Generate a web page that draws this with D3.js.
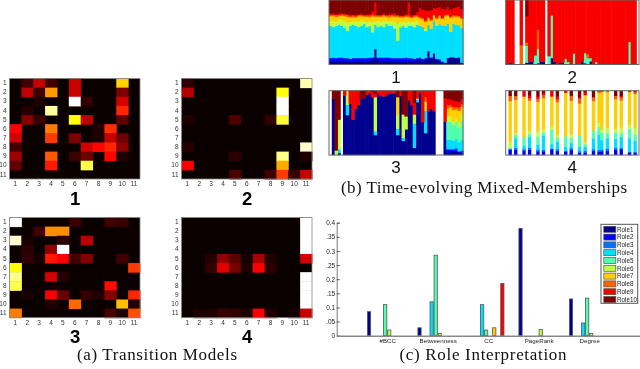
<!DOCTYPE html>
<html><head><meta charset="utf-8">
<script src="https://cdn.jsdelivr.net/npm/d3@7"></script>
<style>html,body{margin:0;padding:0;background:#fff}svg{display:block;filter:blur(.35px)}text{font-family:"Liberation Sans",Arial,sans-serif}</style>
</head><body><svg id="c" width="640" height="369"></svg>
<script>
const indices = ["1","2","3","4","5","6","7","8","9","10","11"];
const heat1 = [
[0,.08,.28,.08,0,.28,0,0,0,.68,0],
[0,.27,.08,.6,0,.28,0,0,0,.17,0],
[0,0,.03,0,0,1,.06,0,0,.3,0],
[0,.04,0,.9,0,0,0,0,0,.42,0],
[0,.18,.07,0,0,.75,.27,0,0,.13,0],
[.36,0,0,.55,0,0,0,.03,.43,0,0],
[.3,0,0,.45,0,.17,0,.03,.28,.15,0],
[.08,0,0,0,0,0,.3,.37,.42,.2,0],
[.22,0,0,.5,0,.07,.15,0,.37,.03,0],
[.13,0,0,.4,0,0,.82,0,0,0,0],
[0,0,0,0,0,0,0,0,0,0,0]];
const heat2 = [
[.05,0,0,0,0,0,0,0,0,0,.92],
[.25,0,0,0,0,0,0,0,.76,0,0],
[0,0,0,0,0,0,0,0,1,0,0],
[0,0,0,0,0,0,0,0,1,0,0],
[.03,0,0,0,.1,0,0,.06,.8,0,0],
[0,0,0,0,0,0,0,0,0,0,0],
[0,0,0,0,0,0,0,0,0,0,0],
[.04,0,0,0,0,0,0,0,0,0,.95],
[0,0,0,0,.05,0,0,0,.88,0,.03],
[.36,0,0,0,0,0,0,0,.62,0,0],
[0,0,0,0,.1,0,0,.08,.45,.07,.28]];
const heat3 = [
[1,0,0,0,0,.07,0,0,.08,.07,0],
[0,0,.08,.58,.58,0,0,0,0,0,0],
[.95,.02,0,0,.05,0,.27,0,0,0,0],
[0,.05,0,.2,1,0,0,0,0,0,0],
[0,.06,.02,.4,.36,.08,.18,0,0,.08,0],
[.75,0,0,0,0,0,0,0,0,0,.45],
[.88,0,0,.3,.04,0,0,0,0,0,0],
[.82,0,0,0,0,0,0,0,.38,0,0],
[0,.02,0,.36,.14,0,.06,.03,.18,0,.42],
[0,0,0,.03,0,.52,0,0,0,.65,.04],
[.55,0,0,0,0,0,0,0,.09,.03,.48]];
const heat4 = [
[0,0,0,0,0,0,0,0,0,0,1],
[0,0,0,0,0,0,0,0,0,0,1],
[0,0,0,0,0,0,0,0,0,0,1],
[0,0,0,0,0,0,0,0,0,0,1],
[0,0,.04,.2,.12,.02,.24,.03,0,0,.3],
[0,0,.06,.32,.16,.03,.36,.05,0,0,0],
[0,0,0,0,0,0,0,0,0,0,1],
[0,0,0,0,0,0,0,0,0,0,1],
[0,0,0,0,0,0,0,0,0,0,1],
[0,0,0,0,0,0,0,0,0,0,1],
[0,.03,.03,.07,.06,.03,.36,.03,0,.02,.28]];

const roles = ["Role1","Role2","Role3","Role4","Role5","Role6","Role7","Role8","Role9","Role10"];
const roleColors = ["#00008f","#0000ff","#0070ff","#00dfff","#50ffaf","#bfff40","#ffcf00","#ff6000","#f80000","#800000"];

const p1Role1 = [4,6,5,6,5,6,4,5,4,5,6,5,5,4,6,7,24,7,5,6,5,5,6,5,4,5,4,5,6,5,5,7,8,4,7,20,8,16,8,6,3,2,9,11,11,10,11,3];
const p1Role2 = [6,5,5,5,6,4,6,4,6,5,4,5,5,6,5,4,0,4,6,5,6,6,4,5,6,5,6,6,4,5,4,3,3,5,3,0,2,0,1,2,2,1,1,0,0,0,0,0];
const p1Role4 = [50,47,50,51,49,47,42,51,52,50,48,50,53,48,49,39,38,47,49,47,52,49,50,46,27,48,50,46,50,50,49,52,49,49,42,40,40,46,51,52,57,55,50,37,51,50,49,53];
const p1Role6 = [8,9,6,7,9,10,13,6,5,7,9,8,4,8,7,15,5,9,7,9,5,7,8,10,26,8,6,8,7,6,9,5,0,0,3,0,0,0,1,0,0,0,0,0,0,0,0,0];
const p1Role7 = [7,8,8,6,7,8,9,7,6,6,8,7,7,8,6,10,7,7,7,8,6,6,7,8,11,7,7,9,6,6,7,7,12,12,11,10,11,8,9,12,10,14,12,20,11,12,12,14];
const p1Role8 = [2,2,3,2,2,2,3,2,3,2,2,2,2,2,3,3,2,2,2,2,2,3,2,2,2,2,2,2,3,2,2,2,2,2,2,1,2,1,2,2,2,2,2,2,2,2,2,2];
const p1Role9 = [2,2,1,2,1,2,1,2,1,2,1,2,1,2,2,5,20,1,1,2,1,2,2,3,1,1,1,2,20,2,1,5,14,13,16,10,13,9,15,12,14,8,11,10,11,12,14,13];
const p1Role10 = [21,21,22,21,21,21,22,23,23,23,22,21,23,22,22,17,4,23,23,21,23,22,21,21,23,24,24,22,4,24,23,19,12,15,16,16,14,12,12,10,14,14,10,14,12,11,10,14];

const p2Role1 = [0,3,1.5,0,0,0,0,3,4,4,0,2,4,4,0,0,10,4,0,3,3,0,0,0,0,1,0,5,2,0,5,0,0,0,0,0,0,0,0,0,0,0,0,0,0,0,0,0];
const p2Role5 = [0,0,0,0,0,0,0,26,0,0,14,22,0,0,0,13,66,0,0,0,0,9,4,0,17,0,0,0,16,10,5,0,4,0,0,0,0,0,0,0,0,0,0,0,35,0,0,0];
const p2Role8 = [0,0,0,0,0,30,0,5,0,0,0,30,0,0,0,0,0,0,0,0,0,0,0,0,0,0,0,0,0,6,0,0,0,0,0,0,0,0,0,0,0,0,0,0,0,0,0,0];
const p2Role9 = [100,97,98.5,0,0,70,0,41,96,96,86,46,96,96,0,87,24,96,100,97,97,91,96,100,83,99,100,95,82,84,90,100,96,100,100,100,100,100,100,100,100,100,100,100,65,100,100,0];
const p2Role10 = [0,0,0,0,0,0,0,25,0,0,0,0,0,0,0,0,0,0,0,0,0,0,0,0,0,0,0,0,0,0,0,0,0,0,0,0,0,0,0,0,0,0,0,0,0,0,0,0];

const p3Role1 = [0,88,0,3,0,92,62,80,55,72,78,88,88,94,96,90,31,95,92,91,93,95,96,96,31,92,22,40,85,78,11,82,97,51,34,68,72,68,0,0,0,52,4,5,5,5,3,4];
const p3Role2 = [0,0,0,0,0,0,0,0,0,0,0,0,0,0,0,0,0,0,0,0,0,0,0,0,0,0,0,0,0,0,0,0,0,0,0,0,0,0,0,0,0,0,4,3,3,4,2,2];
const p3Role3 = [0,0,0,0,0,0,0,0,0,0,0,0,0,0,0,0,0,0,0,0,0,0,0,0,0,0,0,0,0,0,0,0,0,0,0,0,0,0,0,0,0,0,2,2,2,2,1,1];
const p3Role4 = [0,0,0,6,0,0,16,0,0,0,0,0,0,0,0,0,6,0,0,0,0,0,0,0,10,0,5,0,0,0,38,4,0,0,35,0,0,0,0,0,0,0,14,14,12,14,14,16];
const p3Role5 = [0,0,0,0,0,0,0,0,0,0,0,0,0,0,0,0,0,0,0,0,0,0,0,0,0,0,0,0,0,0,0,0,0,0,0,0,0,0,0,0,0,0,28,28,25,27,22,30];
const p3Role6 = [0,0,7,46,0,0,22,0,0,0,0,0,0,0,0,0,53,0,0,0,0,0,0,0,22,0,36,20,0,0,14,0,0,0,14,0,0,0,0,0,0,0,8,8,5,5,8,10];
const p3Role7 = [0,0,0,0,0,0,0,0,0,0,0,0,0,0,0,0,0,0,0,0,0,0,0,0,27,0,0,0,0,0,0,2,0,0,0,0,0,0,0,0,0,0,12,14,18,14,18,12];
const p3Role8 = [0,0,0,0,0,0,0,0,0,0,0,0,0,0,0,0,0,0,0,0,0,0,0,0,0,0,0,0,0,0,0,0,0,0,7,0,0,0,0,0,0,0,5,4,5,4,5,4];
const p3Role9 = [0,0,0,0,0,8,0,20,45,28,22,0,0,6,4,8,5,5,8,9,7,5,4,4,0,8,0,0,15,22,18,12,3,49,10,32,28,32,0,0,0,36,10,9,10,9,9,8];
const p3Role10 = [0,12,93,45,0,0,0,0,0,0,0,12,12,0,0,2,5,0,0,0,0,0,0,0,10,0,37,40,0,0,19,0,0,0,0,0,0,0,0,0,0,12,13,13,15,16,17,13];

const p4Cols = [1,3,6,8,11,13,16,18,21,23,26,28,31,33,34,36,39,41,44,46];
const p4Role1 = [1,1,1,1,0,1,1,1,0,1,0,1,1,1,1,1,1,1,1,1];
const p4Role2 = [7,7,6,8,6,5,8,5,5,7,3,3,5,4,5,5,7,8,3,2];
const p4Role3 = [2,3,2,3,3,3,1,3,2,3,3,3,3,3,3,4,3,2,1,2];
const p4Role4 = [0,15,6,17,8,23,7,12,6,8,7,6,17,24,15,16,14,17,21,17];
const p4Role5 = [1,5,13,5,13,5,22,5,16,8,17,4,12,12,12,8,10,6,15,10];
const p4Role6 = [10,3,0,5,8,5,6,5,0,6,0,3,0,7,5,8,5,9,6,10];
const p4Role7 = [63,52,63,49,49,51,46,51,68,54,50,75,46,47,60,56,47,42,51,53];
const p4Role8 = [8,6,0,4,5,5,0,5,0,8,8,0,6,2,1,2,5,5,1,3];
const p4Role9 = [0,0,9,4,4,3,9,4,3,0,2,5,0,1,1,0,0,2,1,2];
const p4Role10 = [8,8,0,8,9,4,0,9,0,8,10,2,10,0,0,0,8,8,0,0];

const metrics = ["#BCC","Betweenness","CC","PageRank","Degree"];
const rBCC = [.085,0,0,0,.11,.02,0,0,0,0];
const rBetween = [.028,0,0,.12,.285,.008,0,0,0,0];
const rCC = [0,0,0,.11,.02,0,.028,0,.185,0];
const rPageRank = [.38,0,0,0,0,.022,0,0,0,0];
const rDegree = [.13,0,0,.045,.133,.008,0,0,0,0];
const yTicks = [0,.05,.1,.15,.2,.25,.3,.35,.4];
const yTickLabels = ["0",".05","0.1",".15","0.2",".25","0.3",".35","0.4"];

const svg = d3.select("#c");
const hot = d3.scaleLinear().domain([0,.365,.746,1]).range(["#0a0000","#ff0000","#ffff00","#ffffff"]).clamp(true);

function heatmap(m,x0,x1,y0,y1,title){
  const g = svg.append("g");
  const x = d3.scaleBand().domain(indices).range([x0,x1]);
  const y = d3.scaleBand().domain(indices).range([y0,y1]);
  g.append("rect").attr("x",x0).attr("y",y0).attr("width",x1-x0).attr("height",y1-y0).attr("fill","#0a0000");
  m.forEach((row,r)=>row.forEach((v,c)=>{
    if(!v) return;
    g.append("rect").attr("x",x(indices[c])).attr("y",y(indices[r]))
      .attr("width",x.bandwidth()+.5).attr("height",y.bandwidth()+.5).attr("fill",hot(v));
  }));
  g.append("rect").attr("x",x0).attr("y",y0).attr("width",x1-x0).attr("height",y1-y0)
    .attr("fill","none").attr("stroke","#888").attr("stroke-width",.8);
  const ax = g.append("g").attr("transform",`translate(0,${y1})`).call(d3.axisBottom(x).tickSize(0).tickPadding(2.5));
  const ay = g.append("g").attr("transform",`translate(${x0},0)`).call(d3.axisLeft(y).tickSize(0).tickPadding(3));
  [ax,ay].forEach(a=>{a.select(".domain").remove();a.selectAll("text").attr("font-size",6.5).attr("fill","#333").style("font-family","'Liberation Sans'");});
  g.append("text").attr("x",(x0+x1)/2+.5).attr("y",y1+25.5).attr("text-anchor","middle")
    .attr("font-size",18.5).attr("font-weight","bold").attr("fill","#000").text(title);
}
heatmap(heat1,9.5,140,78.5,179,"1");
heatmap(heat2,181.5,312,78.5,179,"2");
heatmap(heat3,9.5,140,217.5,317.7,"3");
heatmap(heat4,181.5,312,217.5,317.7,"4");

function expand(cols,arr){const o=new Array(48).fill(0);cols.forEach((c,i)=>o[c]=arr[i]);return o;}
const zero = new Array(48).fill(0);
const panels = [
 {s:[p1Role1,p1Role2,zero,p1Role4,zero,p1Role6,p1Role7,p1Role8,p1Role9,p1Role10],x0:329,x1:463,y0:0,y1:64.5,t:"1"},
 {s:[p2Role1,zero,zero,zero,p2Role5,zero,zero,p2Role8,p2Role9,p2Role10],x0:505.7,x1:639,y0:0,y1:64.5,t:"2"},
 {s:[p3Role1,p3Role2,p3Role3,p3Role4,p3Role5,p3Role6,p3Role7,p3Role8,p3Role9,p3Role10],x0:329,x1:463,y0:90.7,y1:155,t:"3"},
 {s:[p4Role1,p4Role2,p4Role3,p4Role4,p4Role5,p4Role6,p4Role7,p4Role8,p4Role9,p4Role10].map(a=>expand(p4Cols,a)),x0:505.7,x1:639,y0:90.7,y1:155,t:"4"}
];
panels.forEach(p=>{
  const g = svg.append("g");
  const rows = d3.range(48).map(i=>p.s.map(a=>a[i]));
  const layers = d3.stack().keys(d3.range(10)).value((d,k)=>d[k]).offset(d3.stackOffsetExpand)(rows);
  const x = d3.scaleBand().domain(d3.range(48)).range([p.x0,p.x1]);
  const y = d3.scaleLinear().domain([0,1]).range([p.y1,p.y0]);
  layers.forEach((l,k)=>{
    g.selectAll(null).data(l.filter(d=>d[1]>d[0])).join("rect")
      .attr("x",d=>x(rows.indexOf(d.data))).attr("width",x.bandwidth()+.6)
      .attr("y",d=>y(d[1])-.2).attr("height",d=>y(d[0])-y(d[1])+.4)
      .attr("fill",roleColors[k]);
  });
  g.append("rect").attr("x",p.x0).attr("y",p.y0).attr("width",p.x1-p.x0).attr("height",p.y1-p.y0)
    .attr("fill","none").attr("stroke","#666").attr("stroke-width",1);
  g.append("text").attr("x",(p.x0+p.x1)/2).attr("y",p.y1+18).attr("text-anchor","middle")
    .attr("font-size",17).attr("fill","#111").text(p.t);
});

// role bars
const bx = d3.scaleLinear().domain([0,6]).range([336.7,639.7]);
const by = d3.scaleLinear().domain([0,.4]).range([335.7,222.7]);
const step = 4.04;
[rBCC,rBetween,rCC,rPageRank,rDegree].forEach((vals,gi)=>{
  vals.forEach((v,k)=>{
    if(!v) return;
    svg.append("rect").attr("x",bx(gi+1)-20.2+k*step+.4).attr("width",step-.8)
      .attr("y",by(v)).attr("height",by(0)-by(v))
      .attr("fill",roleColors[k]).attr("stroke","#555").attr("stroke-width",.8);
  });
});
const yax = svg.append("g").attr("transform","translate(336.7,0)")
  .call(d3.axisLeft(by).tickValues(yTicks).tickFormat((d,i)=>yTickLabels[i]).tickSize(-3).tickPadding(1.5));
yax.select(".domain").attr("stroke","#777");
yax.selectAll("line").attr("stroke","#555");
yax.selectAll("text").attr("font-size",6.5).attr("fill","#222");
const xax = svg.append("g").attr("transform","translate(0,335.7)")
  .call(d3.axisBottom(bx).tickValues([1,2,3,4,5]).tickFormat((d,i)=>metrics[i]).tickSize(0).tickPadding(3));
xax.select(".domain").attr("stroke","#888").attr("stroke-width",1.6);
xax.selectAll("text").attr("font-size",6.2).attr("fill","#222");

// legend
const lg = svg.append("g");
lg.append("rect").attr("x",601).attr("y",224.3).attr("width",36.7).attr("height",79).attr("fill","#fff").attr("stroke","#555").attr("stroke-width",1);
roles.forEach((r,i)=>{
  const yc = 229.3+i*7.8;
  lg.append("rect").attr("x",603.8).attr("y",yc-3).attr("width",12).attr("height",6).attr("fill",roleColors[i]).attr("stroke","#555").attr("stroke-width",.7);
  lg.append("text").attr("x",617).attr("y",yc+2.3).attr("font-size",6.3).attr("fill","#222").text(r);
});

// captions
const caps = [["(a) Transition Models",157,360,160],["(b) Time-evolving Mixed-Memberships",484,193,286],["(c) Role Interpretation",483,360,167]];
caps.forEach(c=>svg.append("text").attr("x",c[1]).attr("y",c[2]).attr("text-anchor","middle")
  .attr("textLength",c[3]).attr("lengthAdjust","spacing")
  .style("font-family","'Liberation Serif',serif").attr("font-size",17).attr("fill","#111").text(c[0]));
</script></body></html>
